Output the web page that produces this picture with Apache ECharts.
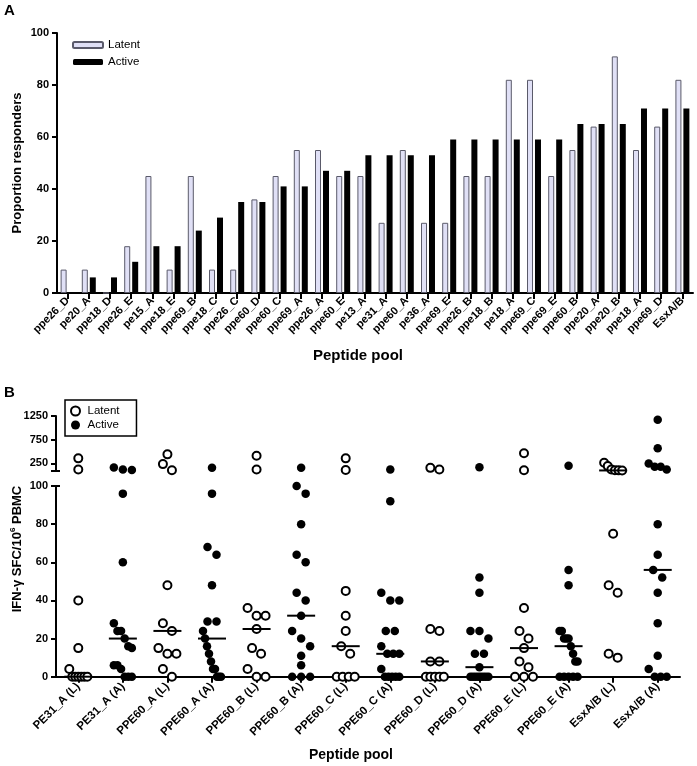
<!DOCTYPE html>
<html><head><meta charset="utf-8">
<script src="https://cdn.jsdelivr.net/npm/echarts@6/dist/echarts.min.js"></script>
<style>html,body{margin:0;padding:0;background:#fff}#c{width:697px;height:766px}</style>
</head><body><div id="c"></div>
<script>
const FONT = '"Liberation Sans", Arial, Helvetica, sans-serif';

// ---------- Panel A data ----------
const poolsA = ['ppe26_D','pe20_A','ppe18_D','ppe26_E','pe15_A','ppe18_E','ppe69_B','ppe18_C','ppe26_C','ppe60_D',
  'ppe60_C','ppe69_A','ppe26_A','ppe60_E','pe13_A','pe31_A','ppe60_A','pe36_A','ppe69_E','ppe26_B',
  'ppe18_B','pe18_A','ppe69_C','ppe69_E','ppe60_B','ppe20_A','ppe20_B','ppe18_A','ppe69_D','EsxA/B'];
const latentA = [9,9,0,18,45,9,45,9,9,36,45,55,55,45,45,27,55,27,27,45,45,82,82,45,55,64,91,55,64,82];
const activeA = [0,6,6,12,18,18,24,29,35,35,41,41,47,47,53,53,53,53,59,59,59,59,59,59,65,65,65,71,71,71];
const yTicksA = [0,20,40,60,80,100];

// ---------- Panel B data ----------
const poolsB = ['PE31_A (L)','PE31_A (A)','PPE60_A (L)','PPE60_A (A)','PPE60_B (L)','PPE60_B (A)',
  'PPE60_C (L)','PPE60_C (A)','PPE60_D (L)','PPE60_D (A)','PPE60_E (L)','PPE60_E (A)','EsxA/B (L)','EsxA/B (A)'];
const pe31A_L  = [356,122,40,15,4,0,0,0,0,0,0];
const pe31A_A  = [165,122,110,96,60,28,24,24,20,16,15,6,6,4,0,0,0];
const ppe60A_L = [441,235,105,48,28,24,15,12,12,4,0];
const ppe60A_A = [156,96,68,64,48,29,29,24,20,16,12,8,4,4,0,0,0];
const ppe60B_L = [412,122,36,32,32,25,15,12,4,0,0];
const ppe60B_A = [156,100,96,80,64,60,44,40,32,24,20,16,11,6,0,0,0];
const ppe60C_L = [356,110,45,32,24,16,12,0,0,0,0];
const ppe60C_A = [122,92,44,40,40,24,24,16,12,12,12,4,0,0,0,0,0];
const ppe60D_L = [156,122,25,24,8,8,0,0,0,0,0];
const ppe60D_A = [170,52,44,24,24,20,12,12,5,0,0,0,0,0,0,0,0];
const ppe60E_L = [463,105,36,24,20,15,8,5,0,0,0];
const ppe60E_A = [200,56,48,24,24,20,20,20,16,12,8,8,0,0,0,0,0];
const esxAB_L  = [263,193,122,106,103,101,75,48,44,12,10];
const esxAB_A  = [1171,569,250,181,181,122,80,64,56,52,44,28,11,4,0,0,0];
const mediansB = [0,20,24,20,25,32,16,12,8,5,15,16,101,56];
const upperTicksB = [250,750,1250];
const lowerTicksB = [0,20,40,60,80,100];
const BREAK_AT = 100;
const UPPER_MAX = 1250;

const groupsB = [pe31A_L,pe31A_A,ppe60A_L,ppe60A_A,ppe60B_L,ppe60B_A,ppe60C_L,ppe60C_A,ppe60D_L,ppe60D_A,ppe60E_L,ppe60E_A,esxAB_L,esxAB_A];

// ---------- build ----------
function points(kind, upper) {
  const out = [];
  groupsB.forEach((vals, ci) => {
    if ((ci % 2 === 0) !== (kind === 'L')) return;
    vals.forEach(v => { if ((v > BREAK_AT) === upper) out.push({ value: [ci, v] }); });
  });
  return out;
}
const medUpper = [], medLower = [];
mediansB.forEach((m, ci) => (m > BREAK_AT ? medUpper : medLower).push([ci, m]));

const scatterDefs = [
  { id: 'upL', grid: 1, data: points('L', true) },
  { id: 'upA', grid: 1, data: points('A', true) },
  { id: 'loL', grid: 2, data: points('L', false) },
  { id: 'loA', grid: 2, data: points('A', false) }
];

const black = '#000';
const lbl = { color: black, fontFamily: FONT, fontWeight: 'bold', fontSize: 11, formatter: v => String(v) };
const axLine = { show: true, lineStyle: { color: black, width: 2 } };
const tick = (len, extra) => Object.assign({ show: true, length: len, lineStyle: { color: black, width: 2 } }, extra || {});

const openStyle = { color: '#fff', borderColor: black, borderWidth: 2, opacity: 1 };
const fillStyle = { color: black, borderColor: black, borderWidth: 0, opacity: 1 };

const option = {
  animation: false,
  backgroundColor: '#fff',
  grid: [
    { left: 57, top: 33, width: 636, height: 260 },
    { left: 56, top: 416, width: 624, height: 54.5 },
    { left: 56, top: 486, width: 624, height: 190.7 }
  ],
  xAxis: [
    { gridIndex: 0, type: 'category', data: poolsA, axisLine: axLine,
      axisTick: tick(6, { alignWithLabel: true }),
      axisLabel: { color: black, fontFamily: FONT, fontWeight: 'bold', rotate: 45, interval: 0, margin: 6, fontSize: 11 } },
    { gridIndex: 1, type: 'category', data: poolsB, show: false },
    { gridIndex: 2, type: 'category', data: poolsB, axisLine: axLine,
      axisTick: tick(6, { alignWithLabel: true }),
      axisLabel: { color: black, fontFamily: FONT, fontWeight: 'bold', rotate: 45, interval: 0, margin: 8, fontSize: 11.5 } }
  ],
  yAxis: [
    { gridIndex: 0, type: 'value', min: yTicksA[0], max: yTicksA[yTicksA.length-1], interval: 20,
      axisLine: axLine, axisTick: tick(5), axisLabel: Object.assign({}, lbl, { margin: 8 }), splitLine: { show: false } },
    { gridIndex: 1, type: 'value', min: BREAK_AT, max: UPPER_MAX,
      axisLine: axLine, axisTick: tick(5, { customValues: [BREAK_AT].concat(upperTicksB) }),
      axisLabel: Object.assign({}, lbl, { customValues: upperTicksB, margin: 8 }), splitLine: { show: false } },
    { gridIndex: 2, type: 'value', min: lowerTicksB[0], max: lowerTicksB[lowerTicksB.length-1], interval: 20,
      axisLine: axLine, axisTick: tick(5), axisLabel: Object.assign({}, lbl, { margin: 8 }), splitLine: { show: false } },
    { gridIndex: 1, type: 'value', min: BREAK_AT, max: UPPER_MAX, position: 'left', offset: 0,
      axisLine: { show: false }, axisLabel: { show: false }, splitLine: { show: false },
      axisTick: tick(4, { inside: true, customValues: [BREAK_AT] }) },
    { gridIndex: 2, type: 'value', min: 0, max: 100, position: 'left', offset: 0,
      axisLine: { show: false }, axisLabel: { show: false }, splitLine: { show: false },
      axisTick: tick(4, { inside: true, customValues: [BREAK_AT] }) }
  ],
  legend: [
    { left: 72, top: 39, orient: 'vertical', itemWidth: 30, itemHeight: 6, itemGap: 5, padding: 0,
      selectedMode: false, data: ['Latent', 'Active'],
      textStyle: { color: black, fontFamily: FONT, fontSize: 11.5 } },
    { left: 65, top: 400, orient: 'vertical', itemWidth: 14, itemHeight: 9, itemGap: 2, padding: [5, 17, 5, 5],
      borderColor: black, borderWidth: 1.5, borderRadius: 0, selectedMode: false,
      data: ['Latent ', 'Active '], formatter: n => n.trim(),
      textStyle: { color: black, fontFamily: FONT, fontSize: 11.5 } }
  ],
  graphic: [
    { type: 'text', x: 4, y: 3, style: { text: 'A', fill: black, font: 'bold 15px ' + FONT, verticalAlign: 'top' } },
    { type: 'text', x: 4, y: 385, style: { text: 'B', fill: black, font: 'bold 15px ' + FONT, verticalAlign: 'top' } },
    { type: 'text', x: 17, y: 163, rotation: Math.PI / 2,
      style: { text: 'Proportion responders', fill: black, font: 'bold 13px ' + FONT, align: 'center', verticalAlign: 'middle' } },
    { type: 'text', x: 358, y: 356,
      style: { text: 'Peptide pool', fill: black, font: 'bold 15px ' + FONT, align: 'center', verticalAlign: 'middle' } },
    { type: 'text', x: 351, y: 755,
      style: { text: 'Peptide pool', fill: black, font: 'bold 14px ' + FONT, align: 'center', verticalAlign: 'middle' } },
    { type: 'text', x: 17, y: 549, rotation: Math.PI / 2,
      style: { text: '{b|IFN-γ SFC/10}{s|6}{b| PBMC}', align: 'center', verticalAlign: 'middle',
        rich: { b: { fill: black, fontFamily: FONT, fontWeight: 'bold', fontSize: 13, lineHeight: 16 },
                s: { fill: black, fontFamily: FONT, fontWeight: 'bold', fontSize: 8, lineHeight: 16, verticalAlign: 'top' } } } }
  ],
  series: [
    { type: 'bar', name: 'Latent', xAxisIndex: 0, yAxisIndex: 0, data: latentA, barWidth: 6, barGap: '33%',
      itemStyle: { color: '#e0e0f6', borderColor: '#5a5a6a', borderWidth: 1 } },
    { type: 'bar', name: 'Active', xAxisIndex: 0, yAxisIndex: 0, data: activeA, barWidth: 6, barGap: '33%',
      itemStyle: { color: black } },
    { id: 'upL', type: 'scatter', name: 'Latent ', xAxisIndex: 1, yAxisIndex: 1, data: scatterDefs[0].data,
      symbol: 'circle', symbolSize: 8, itemStyle: openStyle, clip: false, z: 3 },
    { id: 'upA', type: 'scatter', name: 'Active ', xAxisIndex: 1, yAxisIndex: 1, data: scatterDefs[1].data,
      symbol: 'circle', symbolSize: 8.5, itemStyle: fillStyle, clip: false, z: 3 },
    { id: 'loL', type: 'scatter', name: 'Latent ', xAxisIndex: 2, yAxisIndex: 2, data: scatterDefs[2].data,
      symbol: 'circle', symbolSize: 8, itemStyle: openStyle, clip: false, z: 3 },
    { id: 'loA', type: 'scatter', name: 'Active ', xAxisIndex: 2, yAxisIndex: 2, data: scatterDefs[3].data,
      symbol: 'circle', symbolSize: 8.5, itemStyle: fillStyle, clip: false, z: 3 },
    { type: 'scatter', name: 'median', xAxisIndex: 1, yAxisIndex: 1, data: medUpper, symbol: 'rect',
      symbolSize: [28, 2], itemStyle: { color: black, opacity: 1 }, clip: false, z: 4, silent: true },
    { type: 'scatter', name: 'median', xAxisIndex: 2, yAxisIndex: 2, data: medLower, symbol: 'rect',
      symbolSize: [28, 2], itemStyle: { color: black, opacity: 1 }, clip: false, z: 4, silent: true }
  ]
};

const chart = echarts.init(document.getElementById('c'));
chart.setOption(option);

// spread overlapping dots horizontally (pixel positions from the chart's own scales)
const DY = 8, STEP = 9, MAXSPREAD = 18;
function swarm() {
  const groups = {};
  scatterDefs.forEach(def => {
    def.data.forEach(item => {
      const py = chart.convertToPixel({ gridIndex: def.grid }, item.value)[1];
      const key = def.grid + '_' + item.value[0];
      (groups[key] = groups[key] || []).push({ item, py });
    });
  });
  Object.keys(groups).forEach(k => {
    const list = groups[k].sort((a, b) => a.py - b.py);
    let cluster = [];
    const flush = () => {
      const n = cluster.length;
      const s = n > 1 ? Math.min(STEP, MAXSPREAD / (n - 1)) : 0;
      cluster.forEach((p, i) => { p.item.symbolOffset = [(i - (n - 1) / 2) * s, 0]; });
      cluster = [];
    };
    list.forEach(p => {
      if (cluster.length && p.py - cluster[cluster.length - 1].py >= DY) flush();
      cluster.push(p);
    });
    flush();
  });
  chart.setOption({ series: scatterDefs.map(d => ({ id: d.id, data: d.data })) });
}
swarm();
</script>
</body></html>
